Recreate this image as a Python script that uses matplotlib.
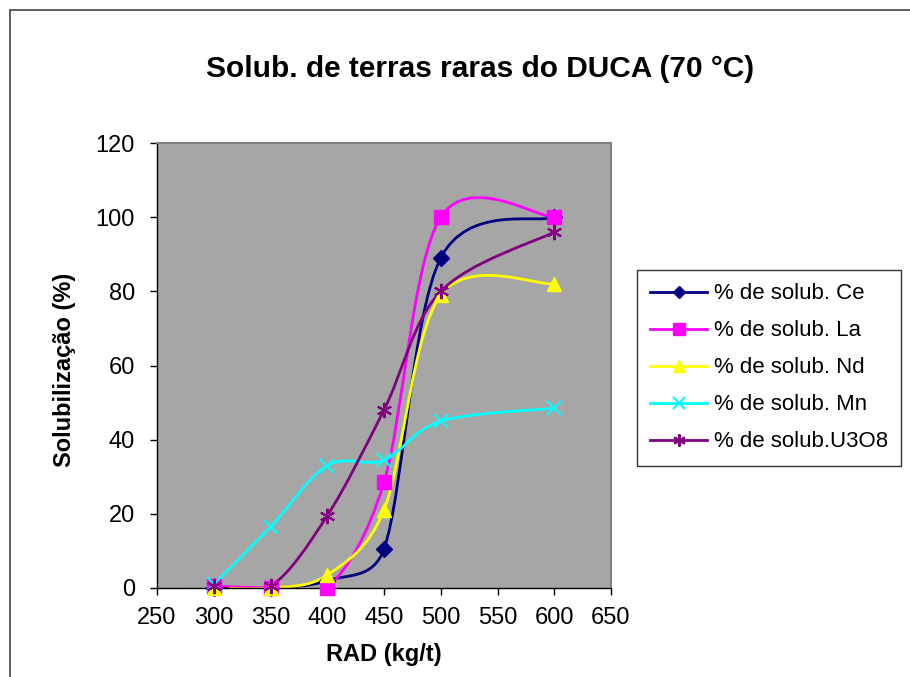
import matplotlib
matplotlib.use("Agg")
import matplotlib.pyplot as plt
from matplotlib.path import Path
from matplotlib.patches import PathPatch, Rectangle
import numpy as np

plt.rcParams['font.family'] = ['Liberation Sans', 'DejaVu Sans']

rad = [300, 350, 400, 450, 500, 600]
ce = [0, 0, 2, 10.5, 89, 100]
la = [0.5, 0, 0, 28.5, 100, 100]
nd = [0, 0, 3.5, 21, 79, 82]
mn = [1, 16.5, 33, 34.5, 45, 48.5]
u3o8 = [0.5, 0.5, 19.5, 48, 80, 96]

labels = ['% de solub. Ce', '% de solub. La', '% de solub. Nd',
          '% de solub. Mn', '% de solub.U3O8']
colors = ['#000080', '#FF00FF', '#FFFF00', '#00FFFF', '#800080']
markers = ['D', 's', '^', 'x', (6, 2, 0)]
msizes = [8, 10, 10, 10, 11]
series = [ce, la, nd, mn, u3o8]

FIG_W, FIG_H = 910, 677
AX_L, AX_R, AX_T, AX_B = 157, 611, 143, 588
XLIM, YLIM = (250, 650), (0, 120)
SX = (AX_R - AX_L) / (XLIM[1] - XLIM[0])
SY = (AX_B - AX_T) / (YLIM[1] - YLIM[0])


def smooth_path(xs, ys, tension=1 / 6):
    """Smoothed line through the points (cubic Bezier segments whose
    handles are limited to half of the adjacent segment length)."""
    p = np.column_stack([xs, ys]).astype(float)
    scale = np.array([SX, SY])
    q = p * scale
    n = len(p)
    verts = [p[0]]
    codes = [Path.MOVETO]
    for i in range(n - 1):
        q0 = q[i - 1] if i > 0 else q[i]
        q1, q2 = q[i], q[i + 1]
        q3 = q[i + 2] if i + 2 < n else q[i + 1]
        d12 = np.linalg.norm(q2 - q1)
        t1 = q2 - q0
        t2 = q3 - q1
        f1 = tension
        f2 = tension
        n1 = np.linalg.norm(t1)
        n2 = np.linalg.norm(t2)
        if n1 * tension > d12 / 2 and n1 > 0:
            f1 = d12 / 2 / n1
        if n2 * tension > d12 / 2 and n2 > 0:
            f2 = d12 / 2 / n2
        c1 = (q1 + t1 * f1) / scale
        c2 = (q2 - t2 * f2) / scale
        verts += [c1, c2, p[i + 1]]
        codes += [Path.CURVE4] * 3
    return Path(verts, codes)


fig = plt.figure(figsize=(FIG_W / 100, FIG_H / 100), dpi=100)
fig.patches.append(Rectangle((10 / FIG_W, -0.1), 1.2, 1 - 10 / FIG_H + 0.1,
                             transform=fig.transFigure, fill=False,
                             edgecolor='#444444', linewidth=1.2))

ax = fig.add_axes([AX_L / FIG_W, (FIG_H - AX_B) / FIG_H,
                   (AX_R - AX_L) / FIG_W, (AX_B - AX_T) / FIG_H])
ax.set_facecolor('#A6A6A6')

for ys, c, m, ms, lab in zip(series, colors, markers, msizes, labels):
    mew = 1.5 if m in ('x', (6, 2, 0)) else 1.0
    patch = PathPatch(smooth_path(rad, ys), facecolor='none', edgecolor=c,
                      linewidth=2.0, zorder=2)
    ax.add_patch(patch)
    ax.plot(rad, ys, linestyle='none', marker=m, color=c, markersize=ms,
            markeredgewidth=mew, clip_on=False, zorder=3)
    ax.plot([], [], color=c, marker=m, markersize=ms * 0.8, linewidth=2.0,
            markeredgewidth=mew, label=lab)

ax.set_xlim(*XLIM)
ax.set_ylim(*YLIM)
ax.set_xticks(np.arange(250, 651, 50))
ax.set_yticks(np.arange(0, 121, 20))
ax.tick_params(axis='both', direction='out', length=5, width=1,
               labelsize=17)
ax.tick_params(axis='x', pad=9)
ax.tick_params(axis='y', pad=11)

for side in ('top', 'right'):
    ax.spines[side].set_color('#808080')
    ax.spines[side].set_linewidth(1.5)
for side in ('bottom', 'left'):
    ax.spines[side].set_color('#000000')
    ax.spines[side].set_linewidth(1.0)

ax.set_xlabel('RAD (kg/t)', fontsize=17, fontweight='bold')
ax.set_ylabel('Solubilização (%)', fontsize=17, fontweight='bold')
ax.xaxis.set_label_coords(0.5, (AX_B - 655) / (AX_B - AX_T))
ax.yaxis.set_label_coords((65 - AX_L) / (AX_R - AX_L),
                          (AX_B - 370) / (AX_B - AX_T))
ax.xaxis.label.set_va('center')
ax.yaxis.label.set_va('center')

fig.text(480 / FIG_W, 1 - 69 / FIG_H, 'Solub. de terras raras do DUCA (70 °C)',
         ha='center', va='center', fontsize=21.5, fontweight='bold')

leg = fig.legend(loc='upper left',
                 bbox_to_anchor=(637 / FIG_W, 1 - 270 / FIG_H),
                 fontsize=16, frameon=True, fancybox=False, handlelength=2.55,
                 handletextpad=0.3, labelspacing=0.72, borderpad=0.6,
                 borderaxespad=0)
leg.get_frame().set_edgecolor('#000000')
leg.get_frame().set_linewidth(1.0)

fig.savefig('out.png', dpi=100)
